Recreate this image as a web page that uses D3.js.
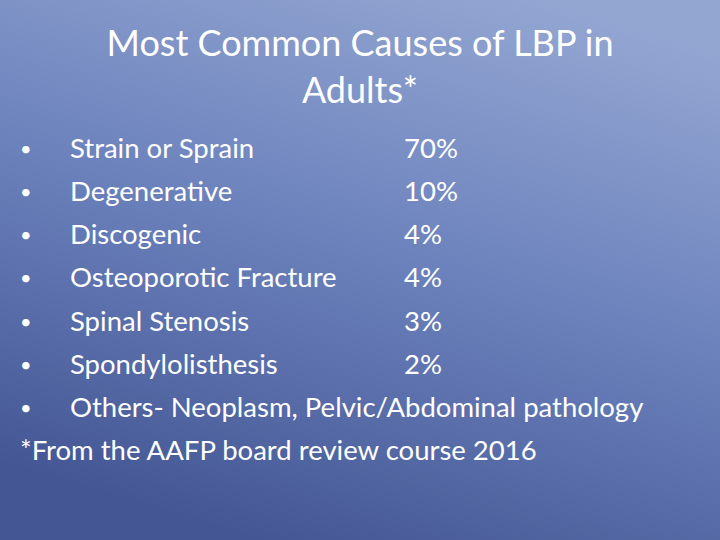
<!DOCTYPE html>
<html><head><meta charset="utf-8">
<script src="https://cdn.jsdelivr.net/npm/d3@7"></script>
<style>body{margin:0;overflow:hidden}</style>
</head><body>
<script>
var titleLines = ['Most Common Causes of LBP in', 'Adults*'];
var causes = ['Strain or Sprain', 'Degenerative', 'Discogenic', 'Osteoporotic Fracture',
  'Spinal Stenosis', 'Spondylolisthesis', 'Others- Neoplasm, Pelvic/Abdominal pathology'];
var percents = ['70%', '10%', '4%', '4%', '3%', '2%', ''];
var footnote = '*From the AAFP board review course 2016';

var w = 720, h = 540;
var svg = d3.select('body').append('svg').attr('width', w).attr('height', h);

var defs = svg.append('defs');
var grad = defs.append('linearGradient').attr('id', 'bg')
  .attr('x1', '75%').attr('y1', '0%').attr('x2', '35%').attr('y2', '100%');
grad.append('stop').attr('offset', '0%').attr('stop-color', '#93a6d2');
grad.append('stop').attr('offset', '50%').attr('stop-color', '#6a80bb');
grad.append('stop').attr('offset', '100%').attr('stop-color', '#44579 4'.replace(' ', ''));
svg.append('rect').attr('width', w).attr('height', h).attr('fill', 'url(#bg)');

var font = 'Lato, "Open Sans", sans-serif';

svg.selectAll('text.title').data(titleLines).enter().append('text')
  .attr('class', 'title')
  .attr('x', w / 2)
  .attr('y', function(d, i) { return 56 + i * 47; })
  .attr('text-anchor', 'middle')
  .attr('font-family', font).attr('font-size', 36)
  .attr('fill', '#fff')
  .text(function(d) { return d; });

var y = d3.scalePoint().domain(d3.range(causes.length + 1)).range([158, 460]);

var rows = svg.selectAll('g.row').data(causes).enter().append('g')
  .attr('class', 'row')
  .attr('transform', function(d, i) { return 'translate(0,' + y(i) + ')'; })
  .attr('font-family', font).attr('font-size', 27.5).attr('fill', '#fff');

rows.append('text').attr('x', 20).attr('font-size', 20).attr('dy', -2).text('•');
rows.append('text').attr('x', 70).text(function(d) { return d; });
rows.append('text').attr('x', 404).text(function(d, i) { return percents[i]; });

svg.append('text').attr('x', 20).attr('y', y(causes.length))
  .attr('font-family', font).attr('font-size', 27.5).attr('fill', '#fff')
  .text(footnote);
</script>
</body></html>
